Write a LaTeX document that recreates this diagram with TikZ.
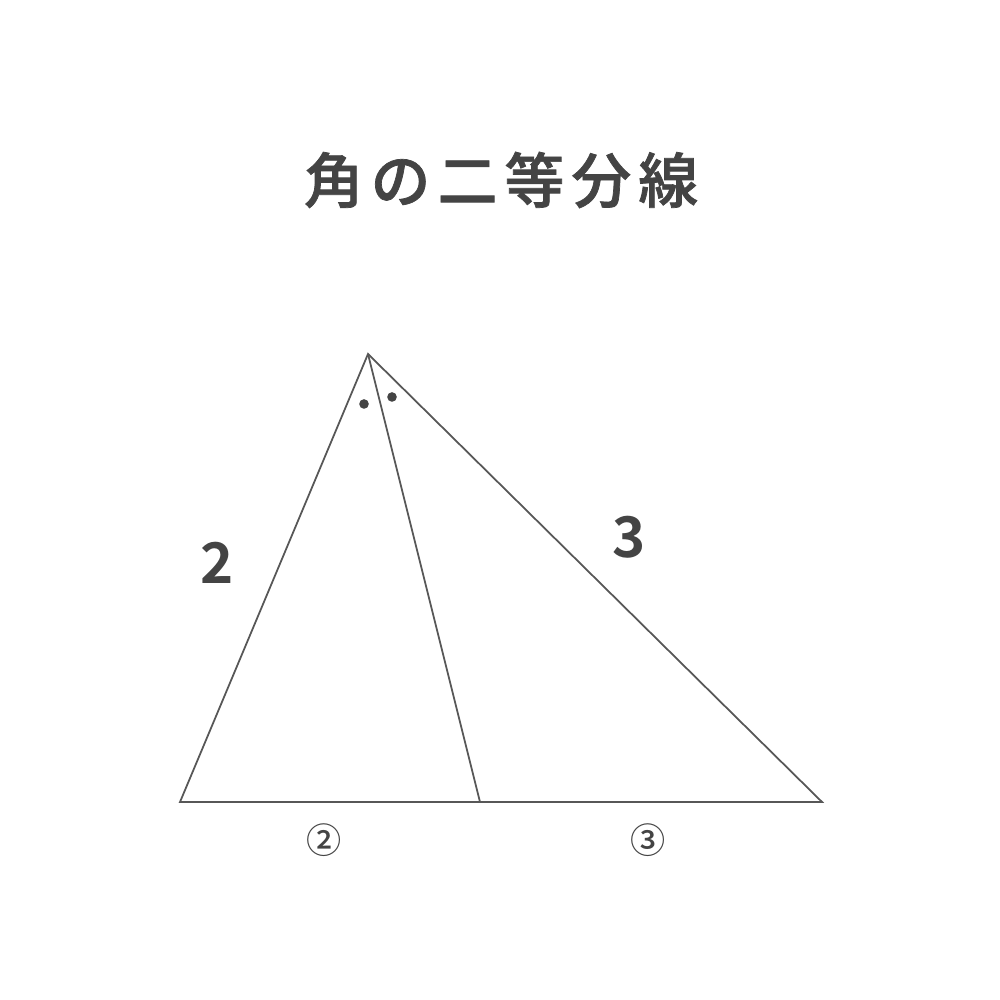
\documentclass[tikz,border=0pt]{standalone}
\usepackage{fontspec}
\newfontfamily\cjk{Noto Sans CJK JP Medium}
\newfontfamily\cjkt{Noto Sans CJK JP Medium}[FakeBold=1.2]
\newfontfamily\cjkb{Noto Sans CJK JP Bold}
\definecolor{ink}{HTML}{444444}
\tikzset{side/.style={draw=ink!90,line width=0.5pt},
  num/.style={font=\cjkb\fontsize{16}{16}\selectfont,text=ink},
  cnum/.style={font=\cjk\fontsize{10}{10}\selectfont,text=ink}}

\begin{document}
\begin{tikzpicture}
\useasboundingbox[fill=white] (0,0) rectangle (10,10);
\node[font=\cjkt\fontsize{17}{17}\selectfont,text=ink] (title) at (5.01,8.2) {角\hspace{0.12em}の\hspace{0.12em}二\hspace{0.12em}等\hspace{0.12em}分\hspace{0.12em}線};
\coordinate (A) at (3.68,6.46);
\coordinate (B) at (1.80,1.98);
\coordinate (C) at (8.22,1.98);
\coordinate (D) at (4.80,1.98);
\draw[side] (A) -- (B) -- (C) -- cycle;
\draw[side] (A) -- (D);
\fill[ink] (3.64,5.96) circle (0.048);
\fill[ink] (3.92,6.03) circle (0.048);
\node[num] (ab) at (2.17,4.37) {2};
\node[num] (ac) at (6.29,4.63) {3};
\node[cnum] (bd) at (3.24,1.60) {②};
\node[cnum] (dc) at (6.48,1.60) {③};
\end{tikzpicture}
\end{document}
